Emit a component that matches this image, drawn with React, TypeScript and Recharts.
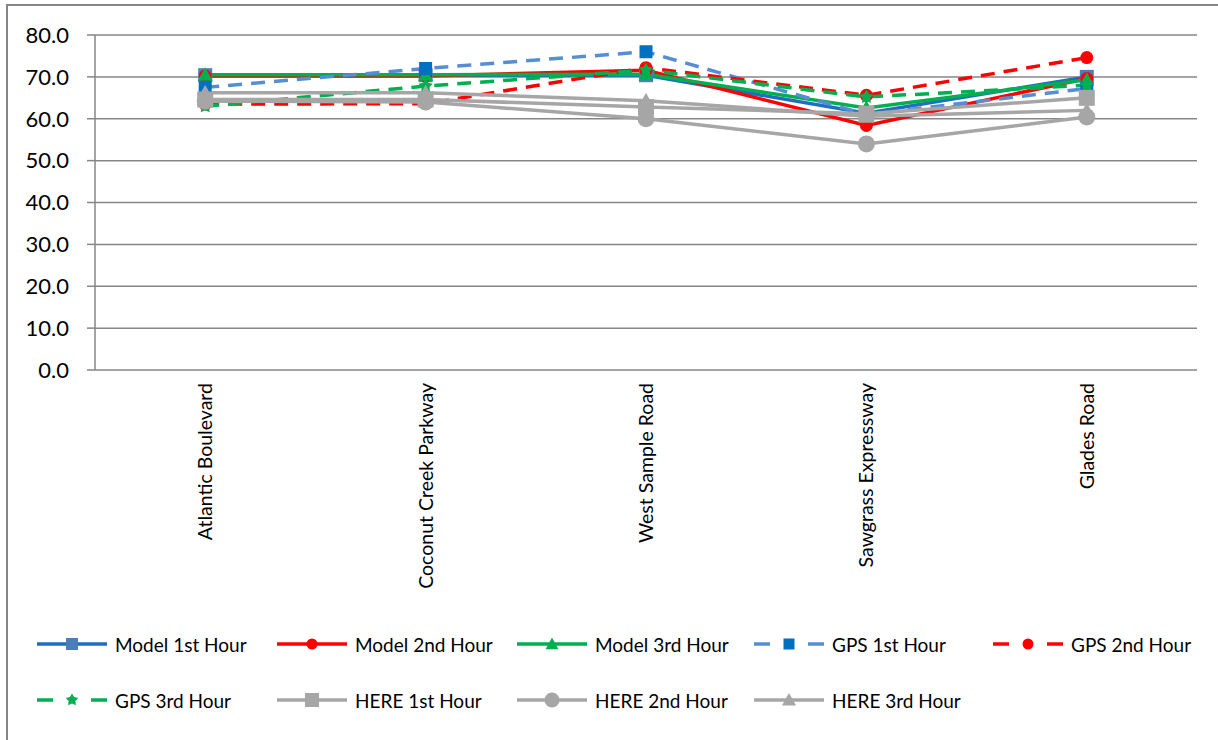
import React from 'react';
import {
  LineChart, Line, XAxis, YAxis, CartesianGrid, Legend,
} from 'recharts';

const categories = ['Atlantic Boulevard', 'Coconut Creek Parkway', 'West Sample Road', 'Sawgrass Expressway', 'Glades Road'];
const model1st = [70.4, 70.4, 70.4, 61.3, 70.0];
const model2nd = [70.2, 70.2, 71.6, 58.4, 69.6];
const model3rd = [70.5, 70.5, 70.6, 62.6, 69.3];
const gps1st = [67.5, 72.0, 76.0, 61.0, 67.2];
const gps2nd = [63.5, 63.6, 72.2, 65.6, 74.6];
const gps3rd = [63.0, 67.8, 71.6, 65.2, 68.0];
const here1st = [64.6, 64.6, 62.8, 61.2, 65.0];
const here2nd = [64.2, 64.0, 60.0, 54.0, 60.4];
const here3rd = [66.2, 66.2, 64.3, 60.6, 62.0];
const yTicks = [0, 10, 20, 30, 40, 50, 60, 70, 80];

const FONT = 'Lato, "Open Sans", sans-serif';
const AXIS = '#868686';

type Shape = 'square' | 'circle' | 'triangle' | 'star';

interface SeriesDef {
  key: string;
  name: string;
  values: number[];
  stroke: string;
  fill: string;
  dashed: boolean;
  shape: Shape;
  size: number;
}

const series: SeriesDef[] = [
  { key: 'm1', name: 'Model 1st Hour', values: model1st, stroke: '#1F6FBF', fill: '#4A7EBB', dashed: false, shape: 'square', size: 14 },
  { key: 'm2', name: 'Model 2nd Hour', values: model2nd, stroke: '#FF0000', fill: '#FF0000', dashed: false, shape: 'circle', size: 13 },
  { key: 'm3', name: 'Model 3rd Hour', values: model3rd, stroke: '#00B050', fill: '#00B050', dashed: false, shape: 'triangle', size: 15 },
  { key: 'g1', name: 'GPS 1st Hour', values: gps1st, stroke: '#558ED5', fill: '#0070C0', dashed: true, shape: 'square', size: 13 },
  { key: 'g2', name: 'GPS 2nd Hour', values: gps2nd, stroke: '#FF0000', fill: '#FF0000', dashed: true, shape: 'circle', size: 13 },
  { key: 'g3', name: 'GPS 3rd Hour', values: gps3rd, stroke: '#00B050', fill: '#00B050', dashed: true, shape: 'star', size: 15 },
  { key: 'h1', name: 'HERE 1st Hour', values: here1st, stroke: '#A6A6A6', fill: '#A6A6A6', dashed: false, shape: 'square', size: 16 },
  { key: 'h2', name: 'HERE 2nd Hour', values: here2nd, stroke: '#A6A6A6', fill: '#A6A6A6', dashed: false, shape: 'circle', size: 17 },
  { key: 'h3', name: 'HERE 3rd Hour', values: here3rd, stroke: '#A6A6A6', fill: '#A6A6A6', dashed: false, shape: 'triangle', size: 16 },
];

const data = categories.map((name, i) => {
  const row: Record<string, number | string> = { x: i + 0.5, name };
  series.forEach((s) => { row[s.key] = s.values[i]; });
  return row;
});

const Marker = ({ cx, cy, shape, size, fill }: { cx: number; cy: number; shape: Shape; size: number; fill: string }) => {
  const h = size / 2;
  if (shape === 'square') {
    return <rect x={cx - h} y={cy - h} width={size} height={size} fill={fill} />;
  }
  if (shape === 'circle') {
    return <circle cx={cx} cy={cy} r={h} fill={fill} />;
  }
  if (shape === 'triangle') {
    return <polygon points={`${cx},${cy - h} ${cx + h},${cy + h * 0.8} ${cx - h},${cy + h * 0.8}`} fill={fill} />;
  }
  // star-ish marker used by GPS 3rd Hour
  const pts: string[] = [];
  for (let k = 0; k < 10; k++) {
    const r = k % 2 === 0 ? h : h * 0.55;
    const a = -Math.PI / 2 + (k * Math.PI) / 5;
    pts.push(`${cx + r * Math.cos(a)},${cy + r * Math.sin(a)}`);
  }
  return <polygon points={pts.join(' ')} fill={fill} />;
};

const CategoryTick = (props: any) => {
  const { x, y, payload } = props;
  const label = categories[Math.floor(payload.value)];
  const ty = y + 13;
  return (
    <text
      x={x}
      y={ty}
      transform={`rotate(-90 ${x} ${ty})`}
      textAnchor="end"
      dy="0.36em"
      fill="#000"
      fontSize={19.5}
      fontFamily={FONT}
    >
      {label}
    </text>
  );
};

const legendCols = [37, 277, 517, 754, 993];
const legendRows = [24, 80];

const renderLegend = () => (
  <div style={{ position: 'relative', width: 1218, height: 110, fontFamily: FONT, fontSize: 19, color: '#000' }}>
    {series.map((s, i) => {
      const left = legendCols[i % 5];
      const top = legendRows[Math.floor(i / 5)];
      return (
        <div key={s.key} style={{ position: 'absolute', left, top: top - 12, height: 24, display: 'flex', alignItems: 'center', whiteSpace: 'nowrap' }}>
          <svg width={70} height={24} style={{ marginRight: 8 }}>
            {s.dashed ? (
              <>
                <line x1={0} y1={12} x2={16} y2={12} stroke={s.stroke} strokeWidth={3.5} />
                <line x1={54} y1={12} x2={70} y2={12} stroke={s.stroke} strokeWidth={3.5} />
              </>
            ) : (
              <line x1={0} y1={12} x2={70} y2={12} stroke={s.stroke} strokeWidth={3.5} />
            )}
            <Marker cx={35} cy={12} shape={s.shape} size={s.size - 2} fill={s.fill} />
          </svg>
          <span>{s.name}</span>
        </div>
      );
    })}
  </div>
);

const App: React.FC = () => (
  <div style={{ position: 'relative', width: 1218, height: 740, overflow: 'hidden', background: '#fff' }}>
    <style>{'body{margin:0}'}</style>
    <div style={{ position: 'absolute', left: 6, top: 4, width: 1400, height: 900, border: `2px solid ${AXIS}` }} />
    <LineChart
      width={1218}
      height={740}
      data={data}
      margin={{ top: 35, right: 21, left: 0, bottom: 10 }}
      style={{ position: 'absolute', left: 0, top: 0 }}
    >
      <CartesianGrid vertical={false} stroke={AXIS} strokeWidth={1.5} />
      <XAxis
        dataKey="x"
        type="number"
        domain={[0, 5]}
        ticks={[0, 1, 2, 3, 4, 5]}
        tick={false}
        tickSize={7}
        height={0}
        stroke={AXIS}
        strokeWidth={1.5}
        allowDataOverflow
      />
      <XAxis
        xAxisId="labels"
        dataKey="x"
        type="number"
        domain={[0, 5]}
        ticks={[0.5, 1.5, 2.5, 3.5, 4.5]}
        tick={<CategoryTick />}
        tickLine={false}
        axisLine={false}
        tickSize={0}
        tickMargin={0}
        height={250}
        allowDataOverflow
      />
      <YAxis
        domain={[0, 80]}
        ticks={yTicks}
        width={95}
        tickSize={8}
        tickMargin={18}
        tickFormatter={(v: number) => v.toFixed(1)}
        tick={{ fill: '#000', fontSize: 22, fontFamily: FONT }}
        stroke={AXIS}
        strokeWidth={1.5}
      />
      <Legend verticalAlign="bottom" content={renderLegend} wrapperStyle={{ left: 0, width: 1218 }} />
      {series.map((s) => (
        <Line
          key={s.key}
          dataKey={s.key}
          name={s.name}
          stroke={s.stroke}
          strokeWidth={3.5}
          strokeDasharray={s.dashed ? '14 9' : undefined}
          dot={(p: any) => <Marker key={`${s.key}-${p.index}`} cx={p.cx} cy={p.cy} shape={s.shape} size={s.size} fill={s.fill} />}
          activeDot={false}
          isAnimationActive={false}
        />
      ))}
    </LineChart>
  </div>
);

export default App;
